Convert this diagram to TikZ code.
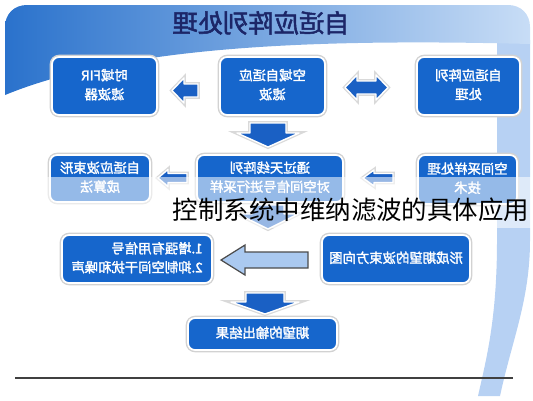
\documentclass[tikz,border=0pt]{standalone}
\usepackage{fontspec}
\usepackage{graphicx}
\setmainfont{Noto Sans CJK SC}[AutoFakeBold=2]

\definecolor{boxblue}{RGB}{22,102,204}
\definecolor{arrowblue}{RGB}{26,96,196}
\definecolor{lightarrow}{RGB}{170,201,240}
\definecolor{bannerdark}{RGB}{42,114,204}
\definecolor{bannerlight}{RGB}{200,221,246}
\definecolor{bandblue}{RGB}{183,209,243}
\definecolor{titlenavy}{RGB}{28,38,104}

% mirrored text, as printed in the picture
\newcommand{\mir}[1]{\reflectbox{\begin{tabular}{@{}c@{}}#1\end{tabular}}}
\newcommand{\mirl}[1]{\reflectbox{\begin{tabular}{@{}l@{}}#1\end{tabular}}}

\begin{document}
\begin{tikzpicture}[x=0.02cm, y=-0.02cm,
        box/.style={rounded corners=4pt, fill=boxblue, draw=white, line width=1pt,
            preaction={draw=gray!35, line width=2.6pt}, text=white, inner sep=0pt,
            font=\fontsize{7.6}{10.8}\selectfont\bfseries},
        blockarrow/.style={fill=arrowblue, draw=white, line width=0.8pt, line join=round,
            preaction={draw=gray!30, line width=2.2pt}},
        bigarrow/.style={fill=lightarrow, draw=black!70, line width=0.7pt}
    ]
    \useasboundingbox (0,0) rectangle (533,400);

    % Background band on the right
    \fill[bandblue] (497,40) -- (497,240) .. controls (497,320) and (486,360) .. (478,396)
        -- (500,396) .. controls (512,340) and (530,300) .. (530,240) -- (530,40) -- cycle;

    % Title banner
    \shade[left color=bannerdark, right color=bannerlight]
        (5,95) -- (5,27) .. controls (5,14) and (14,5) .. (27,5) -- (508,5)
        .. controls (521,5) and (530,14) .. (530,27) -- (530,44)
        .. controls (300,38) and (120,48) .. (5,95) -- cycle;
    \node[titlenavy, font=\fontsize{14.4}{16}\selectfont\bfseries] (title) at (261,26) {\mir{自适应阵列处理}};

    % First row
    \node[box, minimum width=2.1cm, minimum height=1.16cm] (fir) at (104.5,86) {\mir{时域FIR\\滤波器}};
    \node[box, minimum width=2.1cm, minimum height=1.16cm] (spatial) at (272.5,86) {\mir{空域自适应\\滤波}};
    \node[box, minimum width=2.06cm, minimum height=1.16cm] (arrayproc) at (468.5,86) {\mir{自适应阵列\\处理}};

    \draw[blockarrow] (172,90.5) -- (184,78) -- (184,84) -- (198,84) -- (198,97) -- (184,97) -- (184,103) -- cycle;
    \draw[blockarrow] (345,87.5) -- (357,75) -- (357,81) -- (376,81) -- (376,75) -- (388,87.5)
        -- (376,100) -- (376,94) -- (357,94) -- (357,100) -- cycle;
    \draw[blockarrow] (250,123) -- (286,123) -- (286,133) -- (299,133) -- (268,147) -- (237,133) -- (250,133) -- cycle;

    % Second row
    \node[box, minimum width=2cm, minimum height=0.94cm] (beamalg) at (100,178.5) {\mir{自适应波束形\\成算法}};
    \node[box, minimum width=2.92cm, minimum height=0.94cm] (sampling) at (270,178.5) {\mir{通过天线阵列\\对空间信号进行采样}};
    \node[box, minimum width=1.98cm, minimum height=0.98cm] (sptech) at (467.5,179.5) {\mir{空间采样处理\\技术}};

    \draw[blockarrow] (158,178) -- (168,169.5) -- (168,173.5) -- (187,173.5) -- (187,182.5) -- (168,182.5) -- (168,186.5) -- cycle;
    \draw[blockarrow] (363,178) -- (374,170) -- (374,173.5) -- (393,173.5) -- (393,182.5) -- (374,182.5) -- (374,186) -- cycle;
    \draw[blockarrow] (252,205) -- (284,205) -- (284,214) -- (298,214) -- (268,229) -- (238,214) -- (252,214) -- cycle;

    % Third row
    \node[box, minimum width=3cm, minimum height=0.96cm] (enhance) at (137,259) {\mirl{1.增强有用信号\\2.抑制空间干扰和噪声}};
    \node[box, minimum width=2.96cm, minimum height=0.96cm] (pattern) at (396,259) {\mir{形成期望的波束方向图}};
    \draw[bigarrow] (221,260) -- (245,245) -- (245,252) -- (308,252) -- (308,268) -- (245,268) -- (245,275) -- cycle;

    \draw[blockarrow] (246,293) -- (284,293) -- (284,302) -- (299,302) -- (265,314) -- (231,302) -- (246,302) -- cycle;
    \node[box, minimum width=2.98cm, minimum height=0.64cm] (result) at (262.5,334) {\mir{期望的输出结果}};

    % Caption laid over the picture
    \fill[white, opacity=0.55] (0,177) rectangle (533,228);
    \node[black, font=\fontsize{14.5}{16}\selectfont] (caption) at (351,210) {控制系统中维纳滤波的具体应用};

    % Rule at the bottom
    \draw[black!75, line width=0.9pt] (15,378) -- (513,378);
\end{tikzpicture}
\end{document}
